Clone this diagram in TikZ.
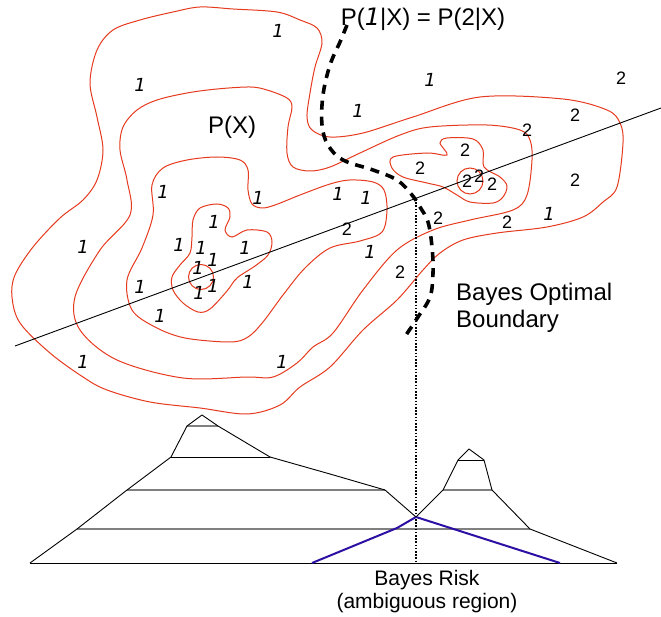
\documentclass[tikz,border=0pt]{standalone}
\usepackage{fontspec}
\setmainfont{Liberation Sans}
\newfontfamily\oneface{DejaVu Sans Oblique}
\usepackage{xcolor}
\definecolor{Isoline}{HTML}{E63A1E}
\definecolor{Shelf}{HTML}{808080}
\definecolor{RiskBlue}{HTML}{2E0FA3}
\usetikzlibrary{positioning}
\tikzset{
  isoline/.style={draw=Isoline,line width=1pt},
  one/.style={font=\oneface\fontsize{18}{20}\selectfont,inner sep=0pt},
  two/.style={font=\fontsize{18}{20}\selectfont,inner sep=0pt},
  caption/.style={font=\fontsize{24}{27}\selectfont,inner sep=0pt},
  boundary/.style={line width=3.6pt,dash pattern=on 9pt off 7pt},
  shelf/.style={draw=Shelf,line width=1.6pt},
  hill/.style={draw=black,line width=0.9pt,line join=round},
  riskline/.style={draw=RiskBlue,line width=2pt,line join=round},
  guide/.style={line width=1.4pt,dash pattern=on 1.6pt off 1.6pt}
}
\begin{document}
\begin{tikzpicture}[x=1pt,y=-1pt]
\useasboundingbox (0,0) rectangle (661,617);
% density contours
\draw[isoline] plot[smooth cycle,tension=0.55] coordinates {(330,137) (363,133) (413,117) (480,97) (563,99) (607,110) (620,123) (623,143) (617,187) (603,202) (583,217) (547,227) (497,233) (463,240) (440,253) (423,270) (397,300) (363,330) (330,367) (300,387) (280,405) (247,414) (200,408) (150,402) (107,390) (83,377) (50,353) (20,323) (12,297) (15,275) (33,247) (60,218) (83,200) (97,180) (103,150) (97,117) (90,83) (97,50) (113,30) (140,20) (173,12) (200,7) (233,9) (277,12) (300,20) (317,28) (322,43) (315,67) (310,93) (307,117) (312,130)};
\draw[isoline] plot[smooth cycle,tension=0.55] coordinates {(330,167) (360,153) (400,135) (430,127) (487,125) (520,130) (530,140) (532,160) (527,195) (513,210) (470,220) (433,230) (397,250) (363,290) (333,333) (313,347) (297,363) (273,377) (247,377) (183,378) (117,360) (80,330) (75,297) (100,250) (130,215) (127,180) (120,150) (123,127) (137,110) (157,100) (187,93) (217,89) (250,87) (267,90) (287,98) (292,107) (288,127) (287,153) (293,167) (310,171)};
\draw[isoline] plot[smooth cycle,tension=0.55] coordinates {(163,168) (187,160) (217,157) (240,160) (248,170) (248,190) (252,204) (262,208) (275,205) (300,195) (330,184) (350,180) (373,182) (384,190) (387,210) (382,232) (360,241) (330,248) (305,268) (283,295) (263,322) (248,337) (230,342) (185,338) (155,327) (132,310) (127,280) (142,248) (153,215) (152,185)};
\draw[isoline] plot[smooth cycle,tension=0.55] coordinates {(193,220) (200,208) (217,204) (228,208) (230,217) (225,230) (232,237) (247,230) (267,232) (272,242) (268,255) (255,266) (237,278) (227,291) (210,309) (198,312) (183,303) (173,290) (172,277) (180,265) (190,253) (192,237)};
\draw[isoline] plot[smooth cycle,tension=0.55] coordinates {(393,157) (427,153) (447,155) (440,143) (447,138) (473,139) (483,150) (484,167) (500,177) (507,186) (503,197) (493,203) (470,202) (457,195) (443,187) (427,183) (403,177) (392,168)};
\draw[isoline] (201,277) circle[radius=12.5];
\draw[isoline] (470,181) circle[radius=13];
% projection line
\draw[line width=0.9pt] (15,346) -- (661,108);
% class labels
\foreach \x/\y [count=\i] in {278/31,140/85,430/80,358/111,163/192,258/198,338/194,366/198,214/222,179/245,201/248,245/248,213/260,198/268,213/286,248/282,199/293,140/287,160/316,83/247,83/362,282/362,370/252,549/214}
  \node[one] (one\i) at (\x,\y) {1};
\foreach \x/\y [count=\i] in {621/78,575/115,527/130,465/150,420/168,467/181,479/176,492/184,575/180,347/229,438/218,507/222,400/272}
  \node[two] (two\i) at (\x,\y) {2};
\node[caption] (px) at (232,127) {P(X)};
\node[caption] (equal) at (423,19) {P({\oneface 1}|X) = P(2|X)};
% decision boundary
\draw[boundary] plot[smooth,tension=0.6] coordinates {(347,25) (340,42) (330,65) (323,95) (322,125) (328,145) (343,160) (373,170) (397,180) (412,195) (420,207) (428,222) (432,247) (433,273) (430,297) (418,317) (406,335)};
\node[caption,anchor=north west,align=left] (optimal) at (456,283) {Bayes Optimal\\Boundary};
% class densities below
\coordinate (bndtop) at (416,199);
\coordinate (valley) at (416,517);
\coordinate (foot) at (416,563);
\draw[shelf] (187,426) -- (218,426);
\draw[shelf] (127,490) -- (385,490);
\draw[shelf] (443,490) -- (492,490);
\draw[shelf] (77,529) -- (530,529);
\draw[hill] (171,457) -- (270,457);
\draw[hill] (458,460) -- (484,460);
\draw[hill] (30,563) -- (617,563);
\draw[hill] (30,563) -- (77,529) -- (127,490) -- (171,457) -- (187,426) -- (202,415) -- (218,426) -- (270,457) -- (330,474) -- (385,490) -- (valley);
\draw[hill] (valley) -- (443,490) -- (458,460) -- (469,449) -- (484,460) -- (492,490) -- (530,529) -- (617,563);
\draw[riskline] (312,563) -- (397,528) -- (valley) -- (560,563);
\draw[guide] (bndtop) -- (foot);
\node[font=\fontsize{21}{23}\selectfont,align=center,inner sep=0pt,anchor=north,below=7pt of foot,xshift=11pt] (risk) {Bayes Risk\\(ambiguous region)};
\end{tikzpicture}
\end{document}
